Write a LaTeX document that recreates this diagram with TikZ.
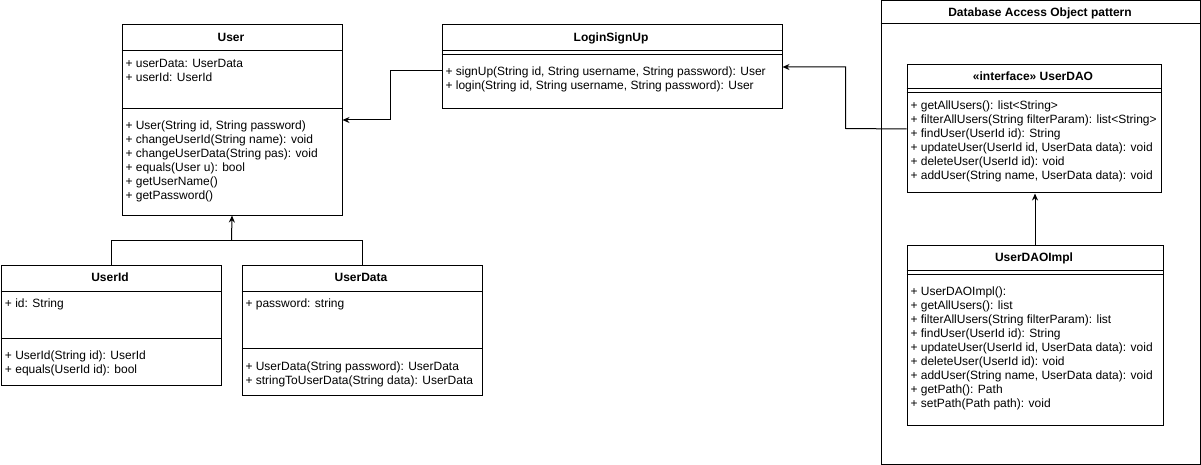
\documentclass[tikz,border=0pt]{standalone}
\usepackage{fontspec}
\setmainfont{Liberation Sans}
\usetikzlibrary{arrows.meta}
\tikzset{
  cls/.style={draw, line width=1pt, anchor=north west, inner sep=0pt},
  ttl/.style={anchor=base, font=\fontsize{12}{14}\selectfont\bfseries},
  mem/.style={anchor=north west, inner sep=0pt, align=left},
  arr/.style={-{Stealth[length=7pt,width=6pt]}}
}
\begin{document}
\begin{tikzpicture}[x=1pt, y=-1pt, font=\fontsize{12}{14}\selectfont, line width=1pt]
\useasboundingbox (0,0) rectangle (1201,465);

\node[cls, minimum width=220pt, minimum height=190pt] (user) at (121.5,24.5) {};
\node[ttl] (usert) at (231,41.3) {User};
\draw ([yshift=-26pt]user.north west) -- ([yshift=-26pt]user.north east);
\draw ([yshift=-84pt]user.north west) -- ([yshift=-84pt]user.north east);
\node[mem] (usera) at (125,57.2) {\strut+ userData: UserData\\+ userId: UserId};
\node[mem] (userm) at (125,119.2) {\strut+ User(String id, String password)\\+ changeUserId(String name): void\\+ changeUserData(String pas): void\\+ equals(User u): bool\\+ getUserName()\\+ getPassword()};

\node[cls, minimum width=340pt, minimum height=84pt] (login) at (441.5,24.5) {};
\node[ttl] (logint) at (611,41.3) {LoginSignUp};
\draw ([yshift=-26pt]login.north west) -- ([yshift=-26pt]login.north east);
\draw ([yshift=-30pt]login.north west) -- ([yshift=-30pt]login.north east);
\node[mem] (loginm) at (445,65.2) {\strut+ signUp(String id, String username, String password): User\\+ login(String id, String username, String password): User};

\node[cls, minimum width=319pt, minimum height=463pt] (pattern) at (880.5,0.5) {};
\node[ttl] (patternt) at (1040,16.3) {Database Access Object pattern};
\draw ([yshift=-23pt]pattern.north west) -- ([yshift=-23pt]pattern.north east);

\node[cls, minimum width=254pt, minimum height=128pt] (dao) at (906.5,64.5) {};
\node[ttl] (daot) at (1033,80.3) {«interface» UserDAO};
\draw ([yshift=-24pt]dao.north west) -- ([yshift=-24pt]dao.north east);
\draw ([yshift=-28pt]dao.north west) -- ([yshift=-28pt]dao.north east);
\node[mem] (daom) at (910,99.2) {\strut+ getAllUsers(): list<String>\\+ filterAllUsers(String filterParam): list<String>\\+ findUser(UserId id): String\\+ updateUser(UserId id, UserData data): void\\+ deleteUser(UserId id): void\\+ addUser(String name, UserData data): void};

\node[cls, minimum width=256pt, minimum height=180pt] (impl) at (906.5,244.5) {};
\node[ttl] (implt) at (1034,261.3) {UserDAOImpl};
\draw ([yshift=-26pt]impl.north west) -- ([yshift=-26pt]impl.north east);
\draw ([yshift=-30pt]impl.north west) -- ([yshift=-30pt]impl.north east);
\node[mem] (implm) at (910,285.2) {\strut+ UserDAOImpl():\\+ getAllUsers(): list\\+ filterAllUsers(String filterParam): list\\+ findUser(UserId id): String\\+ updateUser(UserId id, UserData data): void\\+ deleteUser(UserId id): void\\+ addUser(String name, UserData data): void\\+ getPath(): Path\\+ setPath(Path path): void};

\node[cls, minimum width=220pt, minimum height=120pt] (uid) at (0.5,264.5) {};
\node[ttl] (uidt) at (110,281.8) {UserId};
\draw ([yshift=-27pt]uid.north west) -- ([yshift=-27pt]uid.north east);
\draw ([yshift=-74pt]uid.north west) -- ([yshift=-74pt]uid.north east);
\node[mem] (uida) at (4.5,297.2) {\strut+ id: String};
\node[mem] (uidm) at (4.5,349.2) {\strut+ UserId(String id): UserId\\+ equals(UserId id): bool};

\node[cls, minimum width=240pt, minimum height=130pt] (udata) at (241.5,264.5) {};
\node[ttl] (udatat) at (361,281.8) {UserData};
\draw ([yshift=-27pt]udata.north west) -- ([yshift=-27pt]udata.north east);
\draw ([yshift=-84pt]udata.north west) -- ([yshift=-84pt]udata.north east);
\node[mem] (udataa) at (245,297.2) {\strut+ password: string};
\node[mem] (udatam) at (245,360.2) {\strut+ UserData(String password): UserData\\+ stringToUserData(String data): UserData};

\coordinate (b1) at (390.5,70.5);
\coordinate (b3) at (845.5,128.5);
\coordinate (j) at (231.5,240.5);
\draw[arr] (login.west |- b1) -- (b1) |- (user.east);
\draw[arr] (dao.west) -- (b3) |- (login.east);
\draw[arr] (impl.north) -- (impl.north |- dao.south);
\draw (uid.north) |- (j) -| (udata.north);
\draw[arr] (j) -- (user.south);
\end{tikzpicture}
\end{document}
